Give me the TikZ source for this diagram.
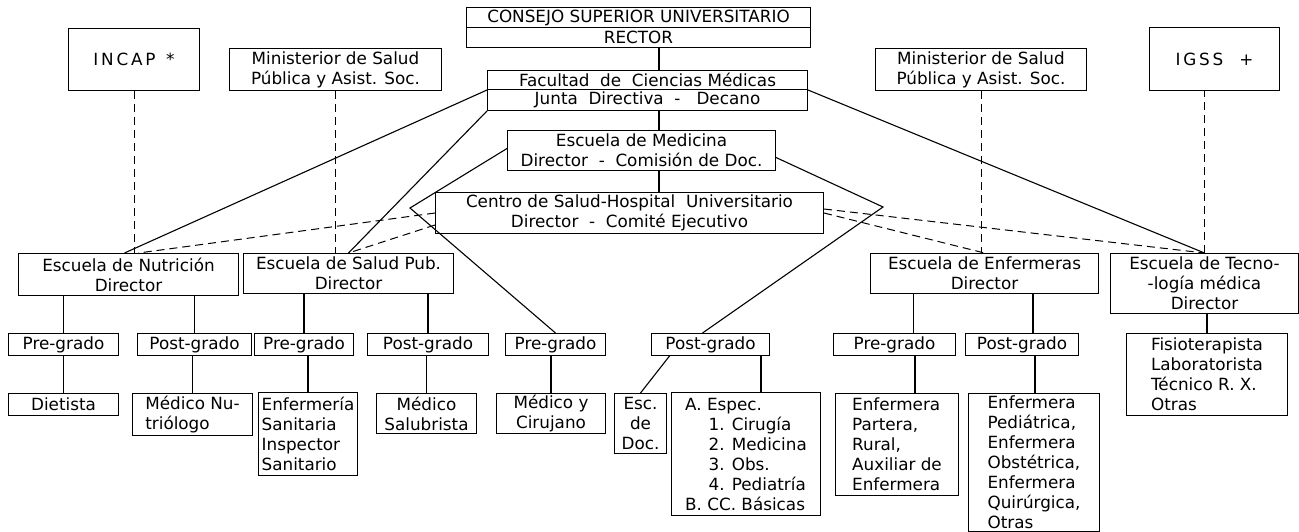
\documentclass[tikz,border=0pt]{standalone}
\usepackage{fontspec}
\setmainfont{DejaVu Sans}
\tikzset{
  caja/.style={draw, line width=1pt, anchor=north west, inner sep=0pt, align=center,
    font=\fontsize{16.8}{20}\selectfont},
  lista/.style={caja, align=left},
  rama/.style={line width=1.1pt},
  enlace/.style={line width=1pt, dash pattern=on 8pt off 5pt},
}
\begin{document}
\begin{tikzpicture}[x=1pt,y=-1pt]
\useasboundingbox (0,0) rectangle (1299,532);
% autoridades
\node[caja, minimum width=344, minimum height=20] (consejo) at (466,7) {CONSEJO SUPERIOR UNIVERSITARIO};
\node[caja, minimum width=344, minimum height=20] (rector) at (466,27) {RECTOR};
\node[caja, minimum width=320, minimum height=19] (facultad) at (487,70) {Facultad\ \ de\ \ Ciencias Médicas};
\node[caja, minimum width=320, minimum height=21] (junta) at (487,89) {Junta\ \ Directiva\ \ -\ \ \ Decano};
\node[caja, minimum width=268, minimum height=40] (medicina) at (507,130) {Escuela de Medicina\\Director\ \ -\ \ Comisión de Doc.};
\node[caja, minimum width=388, minimum height=41] (centro) at (435,192) {Centro de Salud-Hospital\ \ Universitario\\Director\ \ -\ \ Comité Ejecutivo};
% instituciones de fuera
\node[caja, minimum width=131, minimum height=62] (incap) at (68,28) {I\,N\,C\,A\,P\ \ *};
\node[caja, minimum width=212, minimum height=42] (minizq) at (229,48) {Ministerior de Salud\\Pública y Asist. Soc.};
\node[caja, minimum width=211, minimum height=42] (minder) at (875,48) {Ministerior de Salud\\Pública y Asist. Soc.};
\node[caja, minimum width=130, minimum height=63] (igss) at (1149,27) {I\,G\,S\,S\ \ \ +};
% escuelas
\node[caja, minimum width=220, minimum height=42] (nutricion) at (18,253) {Escuela de Nutrición\\Director};
\node[caja, minimum width=210, minimum height=40] (saludpub) at (243,253) {Escuela de Salud Pub.\\Director};
\node[caja, minimum width=228, minimum height=40] (enfermeras) at (870,253) {Escuela de Enfermeras\\Director};
\node[caja, minimum width=188, minimum height=60] (tecno) at (1110,253) {Escuela de Tecno-\\-logía médica\\Director};
% pre y post
\node[caja, minimum width=110, minimum height=22] (nutpre) at (8,333) {Pre-grado};
\node[caja, minimum width=114, minimum height=22] (nutpost) at (137,333) {Post-grado};
\node[caja, minimum width=99, minimum height=22] (salpre) at (254,333) {Pre-grado};
\node[caja, minimum width=121, minimum height=22] (salpost) at (367,333) {Post-grado};
\node[caja, minimum width=100, minimum height=22] (medpre) at (505,333) {Pre-grado};
\node[caja, minimum width=118, minimum height=22] (medpost) at (651,333) {Post-grado};
\node[caja, minimum width=122, minimum height=22] (enfpre) at (833,333) {Pre-grado};
\node[caja, minimum width=113, minimum height=22] (enfpost) at (965,333) {Post-grado};
\node[lista, minimum width=161, minimum height=82] (fisio) at (1126,333) {Fisioterapista\\Laboratorista\\Técnico R. X.\\Otras};
% titulos
\node[caja, minimum width=110, minimum height=22] (dietista) at (8,393) {Dietista};
\node[lista, minimum width=120, minimum height=42] (mednut) at (132,393) {Médico Nu-\\triólogo};
\node[lista, minimum width=99, minimum height=83] (enfsan) at (258,392) {Enfermería\\Sanitaria\\Inspector\\Sanitario};
\node[caja, minimum width=100, minimum height=40] (medsal) at (376,393) {Médico\\Salubrista};
\node[caja, minimum width=109, minimum height=40] (medcir) at (496,393) {Médico y\\Cirujano};
\node[caja, minimum width=52, minimum height=60] (escdoc) at (614,393) {Esc.\\de\\Doc.};
\node[lista, minimum width=149, minimum height=123] (espec) at (671,392) {A. Espec.\\\hspace*{1.4em}1. Cirugía\\\hspace*{1.4em}2. Medicina\\\hspace*{1.4em}3. Obs.\\\hspace*{1.4em}4. Pediatría\\B. CC. Básicas};
\node[lista, minimum width=123, minimum height=102] (enfpar) at (835,393) {Enfermera\\Partera,\\Rural,\\Auxiliar de\\Enfermera};
\node[lista, minimum width=131, minimum height=138] (enfposb) at (968,393) {Enfermera\\Pediátrica,\\Enfermera\\Obstétrica,\\Enfermera\\Quirúrgica,\\Otras};
% lineas de mando
\coordinate (eje) at (659,0);
\coordinate (vizq) at (410,208);
\coordinate (vder) at (883,207);
\draw[rama] (rector.south -| eje) -- (facultad.north -| eje);
\draw[rama] (junta.south -| eje) -- (medicina.north -| eje);
\draw[rama] (medicina.south -| eje) -- (centro.north -| eje);
\draw[rama] (facultad.south west) -- ([xshift=-4pt]nutricion.north);
\draw[rama] (junta.south west) -- (saludpub.north);
\draw[rama] (facultad.south east) -- (tecno.north);
\draw[rama] ([yshift=2pt]medicina.west) -- (vizq) -- (medpre.north);
\draw[rama] ([yshift=-7pt]medicina.east) -- (vder) -- ([xshift=-8pt]medpost.north);
% coordinacion
\draw[enlace] (incap.south) -- (incap.south |- nutricion.north);
\draw[enlace] (minizq.south) -- (minizq.south |- saludpub.north);
\draw[enlace] (minder.south) -- (minder.south |- enfermeras.north);
\draw[enlace] (tecno.north) -- (tecno.north |- igss.south);
\draw[enlace] (centro.west) -- ([xshift=10pt]nutricion.north);
\draw[enlace] ([yshift=-12pt]centro.west) -- (saludpub.north);
\draw[enlace] ([yshift=4pt]centro.east) -- (tecno.north);
\draw[enlace] (centro.east) -- (enfermeras.north);
% escuela a grados
\draw[rama] (nutpre.north) -- (nutpre.north |- nutricion.south);
\draw[rama] (nutpost.north) -- (nutpost.north |- nutricion.south);
\draw[rama] (salpre.north) -- (salpre.north |- saludpub.south);
\draw[rama] (salpost.north) -- (salpost.north |- saludpub.south);
\draw[rama] ([xshift=19pt]enfpre.north) -- ([xshift=19pt]enfpre.north |- enfermeras.south);
\draw[rama] ([xshift=11pt]enfpost.north) -- ([xshift=11pt]enfpost.north |- enfermeras.south);
\draw[rama] (fisio.north) -- (fisio.north |- tecno.south);
% grados a titulos
\draw[rama] (dietista.north) -- (dietista.north |- nutpre.south);
\draw[rama] (mednut.north) -- (mednut.north |- nutpost.south);
\draw[rama] (enfsan.north) -- (enfsan.north |- salpre.south);
\draw[rama] (medsal.north) -- (medsal.north |- salpost.south);
\draw[rama] (medcir.north) -- (medcir.north |- medpre.south);
\draw[rama] (escdoc.north) -- ([xshift=-41pt]medpost.south);
\draw[rama] ([xshift=15pt]espec.north) -- ([xshift=15pt]espec.north |- medpost.south);
\draw[rama] ([xshift=18pt]enfpar.north) -- ([xshift=18pt]enfpar.north |- enfpre.south);
\draw[rama] ([xshift=1pt]enfposb.north) -- ([xshift=1pt]enfposb.north |- enfpost.south);
\end{tikzpicture}
\end{document}
